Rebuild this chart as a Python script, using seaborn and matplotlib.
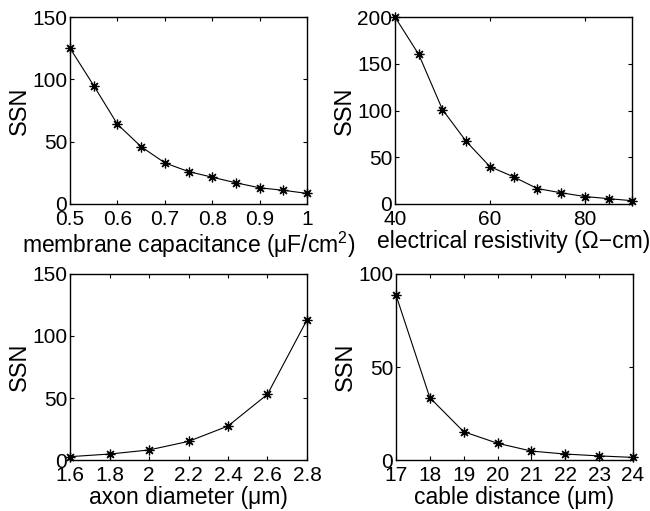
import matplotlib
matplotlib.use('Agg')
import matplotlib.pyplot as plt
import numpy as np
import pandas as pd
import seaborn as sns

# data
capacitance = [0.5, 0.55, 0.6, 0.65, 0.7, 0.75, 0.8, 0.85, 0.9, 0.95, 1.0]
ssn_capacitance = [125, 95, 64, 46, 33, 26, 21.5, 17, 13, 11, 8.5]

resistivity = [40, 45, 50, 55, 60, 65, 70, 75, 80, 85, 90]
ssn_resistivity = [200, 160, 101, 67, 40, 29, 16.5, 12, 8, 5.7, 3.5]

diameter = [1.6, 1.8, 2.0, 2.2, 2.4, 2.6, 2.8]
ssn_diameter = [2.7, 4.8, 8.1, 15, 27.4, 53, 113]

distance = [17, 18, 19, 20, 21, 22, 23, 24]
ssn_distance = [88.7, 33.5, 15.2, 9, 4.8, 3.2, 2.2, 1.4]

sns.set_style('ticks')
plt.rcParams['font.family'] = ['Liberation Sans', 'DejaVu Sans']
plt.rcParams['mathtext.fontset'] = 'custom'
plt.rcParams['mathtext.rm'] = 'Liberation Sans'
plt.rcParams['mathtext.it'] = 'Liberation Sans'
plt.rcParams['text.color'] = 'black'
plt.rcParams['axes.labelcolor'] = 'black'
plt.rcParams['xtick.color'] = 'black'
plt.rcParams['ytick.color'] = 'black'
plt.rcParams['axes.edgecolor'] = 'black'
plt.rcParams['axes.linewidth'] = 1.0
plt.rcParams['xtick.direction'] = 'in'
plt.rcParams['ytick.direction'] = 'in'
plt.rcParams['xtick.major.size'] = 3
plt.rcParams['ytick.major.size'] = 3

fig = plt.figure(figsize=(6.5, 5.11), dpi=100)
boxes = [
    [0.1077, 0.6008, 0.3646, 0.3659],
    [0.6077, 0.6008, 0.3650, 0.3659],
    [0.1077, 0.0998, 0.3646, 0.3640],
    [0.6092, 0.0998, 0.3646, 0.3640],
]

panels = [
    (capacitance, ssn_capacitance, 'membrane capacitance (\u03bcF/cm$^2$)',
     (0.5, 1.0), (0, 150), [0.5, 0.6, 0.7, 0.8, 0.9, 1.0], ['0.5', '0.6', '0.7', '0.8', '0.9', '1'], [0, 50, 100, 150]),
    (resistivity, ssn_resistivity, 'electrical resistivity (\u03a9\u2212cm)',
     (40, 90), (0, 200), [40, 60, 80], ['40', '60', '80'], [0, 50, 100, 150, 200]),
    (diameter, ssn_diameter, 'axon diameter (\u03bcm)',
     (1.6, 2.8), (0, 150), [1.6, 1.8, 2.0, 2.2, 2.4, 2.6, 2.8], ['1.6', '1.8', '2', '2.2', '2.4', '2.6', '2.8'], [0, 50, 100, 150]),
    (distance, ssn_distance, 'cable distance (\u03bcm)',
     (17, 24), (0, 100), list(range(17, 25)), [str(v) for v in range(17, 25)], [0, 50, 100]),
]

for box, (x, y, xlabel, xlim, ylim, xticks, xticklabels, yticks) in zip(boxes, panels):
    ax = fig.add_axes(box)
    df = pd.DataFrame({'x': x, 'y': y})
    sns.lineplot(data=df, x='x', y='y', ax=ax, color='black', linewidth=0.8,
                 marker=(8, 2, 0), markersize=7, markeredgewidth=0.9,
                 markeredgecolor='black', clip_on=False)
    ax.set_xlim(*xlim)
    ax.set_ylim(*ylim)
    ax.set_xticks(xticks)
    ax.set_xticklabels(xticklabels)
    ax.set_yticks(yticks)
    ax.tick_params(axis='both', labelsize=15, top=True, right=True, width=0.8)
    ax.tick_params(axis='x', pad=4.5)
    ax.tick_params(axis='y', pad=2)
    ax.set_xlabel(xlabel, fontsize=16.5, labelpad=0.5)
    ax.set_ylabel('SSN', fontsize=17, labelpad=1)
    for s in ax.spines.values():
        s.set_visible(True)

fig.savefig('out.png', dpi=100)
